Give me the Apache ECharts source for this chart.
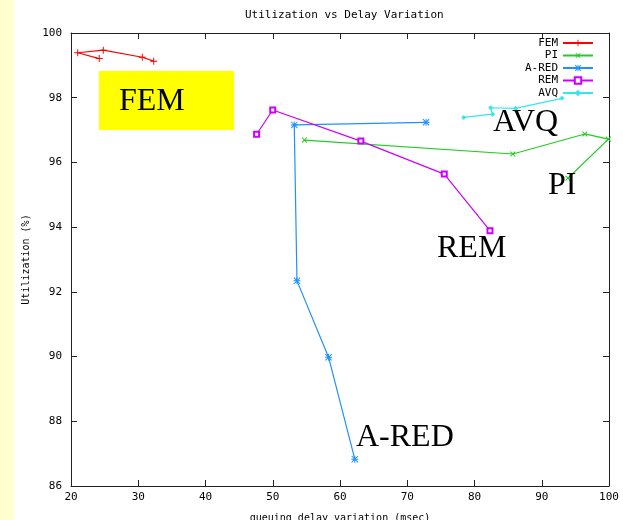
<!DOCTYPE html>
<html>
<head>
<meta charset="utf-8">
<script src="https://cdn.jsdelivr.net/npm/echarts@6/dist/echarts.min.js"></script>
<style>
  html, body { margin: 0; padding: 0; background: #fff; }
  #main { width: 623px; height: 520px; }
</style>
</head>
<body>
<div id="main"></div>
<script>
// values (x = queuing delay variation, y = utilization)
var femX = [24.2, 21.0, 24.8, 30.6, 32.3];
var femY = [99.21, 99.39, 99.47, 99.25, 99.13];
var piX = [54.7, 85.7, 96.4, 99.9, 93.9];
var piY = [96.69, 96.26, 96.88, 96.72, 95.51];
var aredX = [72.8, 53.2, 53.6, 58.3, 62.2];
var aredY = [97.24, 97.16, 92.34, 89.98, 86.83];
var remX = [47.6, 50.0, 63.1, 75.5, 82.3];
var remY = [96.87, 97.62, 96.66, 95.64, 93.89];
var avqX = [78.4, 82.7, 82.4, 86.1, 93.0];
var avqY = [97.39, 97.49, 97.69, 97.67, 97.98];

var xTicks = [20, 30, 40, 50, 60, 70, 80, 90, 100];
var yTicks = [86, 88, 90, 92, 94, 96, 98, 100];

function pairs(xs, ys) {
  return xs.map(function (x, i) { return [x, ys[i]]; });
}

var mono = "'DejaVu Sans Mono', monospace";
var serif = "'Liberation Serif', 'DejaVu Serif', serif";
var plusPath = "path://M4.3,0H5.7V4.3H10V5.7H5.7V10H4.3V5.7H0V4.3H4.3Z";
var starPath = "path://M4.3,0H5.7V10H4.3Z M0,4.3H10V5.7H0Z M1,0L10,9L9,10L0,1Z M9,0L10,1L1,10L0,9Z";

function mkSeries(name, xs, ys, color, symbol, size, rotate, border) {
  return {
    name: name,
    type: "line",
    data: pairs(xs, ys),
    symbol: symbol,
    symbolSize: size,
    symbolRotate: rotate || 0,
    showSymbol: true,
    lineStyle: { color: color, width: 1.2 },
    itemStyle: { color: color, borderColor: color, borderWidth: border || 0 },
    emphasis: { disabled: true },
    animation: false,
  };
}

var axisLine = { lineStyle: { color: "#222", width: 1 } };
var tick = { inside: true, length: 6, lineStyle: { color: "#222" } };

var myChart = echarts.init(document.getElementById("main"));
var option = {
  backgroundColor: "#fff",
  animation: false,
  title: {
    text: "Utilization vs Delay Variation",
    left: 240,
    top: 5,
    textStyle: { fontFamily: mono, fontSize: 11, fontWeight: "normal", color: "#000" },
  },
  grid: { left: 71, right: 14, top: 33, bottom: 34, outerBoundsMode: "none", containLabel: false },
  legend: {
    orient: "vertical",
    right: 24,
    top: 32,
    align: "right",
    itemWidth: 30,
    itemHeight: 8,
    itemGap: 0.5,
    selectedMode: false,
    textStyle: { fontFamily: mono, fontSize: 11, color: "#000", lineHeight: 12 },
    data: ["FEM", "PI", "A-RED", "REM", "AVQ"],
  },
  xAxis: [
    {
      type: "value",
      min: 20,
      max: 100,
      interval: 10,
      name: "queuing delay variation (msec)",
      nameLocation: "middle",
      nameGap: 27,
      nameTextStyle: { fontFamily: mono, fontSize: 10, color: "#000" },
      axisLine: axisLine,
      axisTick: tick,
      axisLabel: {
        fontFamily: mono, fontSize: 11, color: "#000", margin: 6,
        formatter: function (v) { return xTicks.indexOf(v) >= 0 ? String(v) : ""; },
      },
      splitLine: { show: false },
    },
    {
      type: "value",
      position: "top",
      min: 20,
      max: 100,
      interval: 10,
      axisLine: axisLine,
      axisTick: tick,
      axisLabel: { show: false },
      splitLine: { show: false },
    },
  ],
  yAxis: [
    {
      type: "value",
      min: 86,
      max: 100,
      interval: 2,
      name: "Utilization (%)",
      nameLocation: "middle",
      nameRotate: 90,
      nameGap: 40,
      nameTextStyle: { fontFamily: mono, fontSize: 10, color: "#000" },
      axisLine: axisLine,
      axisTick: tick,
      axisLabel: {
        fontFamily: mono, fontSize: 11, color: "#000", margin: 9,
        formatter: function (v) { return yTicks.indexOf(v) >= 0 ? String(v) : ""; },
      },
      splitLine: { show: false },
    },
    {
      type: "value",
      position: "right",
      min: 86,
      max: 100,
      interval: 2,
      axisLine: axisLine,
      axisTick: tick,
      axisLabel: { show: false },
      splitLine: { show: false },
    },
  ],
  series: [
    mkSeries("FEM", femX, femY, "#ff0000", plusPath, 7),
    mkSeries("PI", piX, piY, "#22cc22", plusPath, 7, 45),
    mkSeries("A-RED", aredX, aredY, "#1e90ff", starPath, 7),
    mkSeries("REM", remX, remY, "#cc00ff", "emptyRect", 5, 0, 1),
    mkSeries("AVQ", avqX, avqY, "#33e8e8", "diamond", 5),
  ],
  graphic: [
    { type: "rect", left: 0, top: 0, shape: { width: 14, height: 520 }, style: { fill: "#ffffd0" }, z: -1 },
    { type: "rect", left: 99, top: 71, shape: { width: 135, height: 59 }, style: { fill: "#ffff00" }, z: 10 },
    { type: "text", x: 119, y: 102, z: 11, style: { text: "FEM", font: "32px " + serif, fill: "#000", textVerticalAlign: "middle" } },
    { type: "text", x: 493, y: 123, z: 11, style: { text: "AVQ", font: "32px " + serif, fill: "#000", textVerticalAlign: "middle" } },
    { type: "text", x: 548, y: 186, z: 11, style: { text: "PI", font: "32px " + serif, fill: "#000", textVerticalAlign: "middle" } },
    { type: "text", x: 437, y: 249, z: 11, style: { text: "REM", font: "32px " + serif, fill: "#000", textVerticalAlign: "middle" } },
    { type: "text", x: 356, y: 438, z: 11, style: { text: "A-RED", font: "32px " + serif, fill: "#000", textVerticalAlign: "middle" } },
  ],
};
myChart.setOption(option);
</script>
</body>
</html>
